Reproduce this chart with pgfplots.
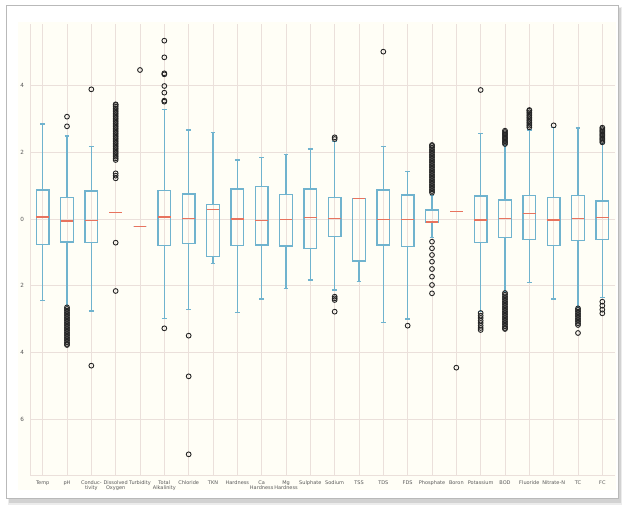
\documentclass[border=0pt]{standalone}
\usepackage{fontspec}
\setmainfont{DejaVu Sans}
\usepackage{pgfplots}
\pgfplotsset{compat=1.18}
\usepgfplotslibrary{statistics}
\definecolor{cream}{HTML}{FFFEF6}
\definecolor{gridc}{HTML}{EBE0DB}
\definecolor{boxc}{HTML}{70B3CE}
\definecolor{medc}{HTML}{E8735E}
\pgfplotsset{
  bx/.style={boxc, line width=1.1pt, mark=o, mark size=2.4pt,
    mark options={draw=black!85, line width=0.9pt, fill=none},
    boxplot/box extend=0.52, boxplot/whisker extend=0.2,
    boxplot/every median/.style={draw=medc, line width=1.3pt}},
}
\begin{document}
\begin{tikzpicture}[x=1pt,y=1pt]
\path[use as bounding box] (0,0) rectangle (622,506);
\fill[gray!15] (8,1) rectangle (622,499);
\fill[gray!35] (9,3) rectangle (621,498);
\filldraw[fill=white, draw=gray!55, line width=0.8pt] (6,8) rectangle (618,501);
\fill[cream] (18,16) rectangle (616,484);
\begin{axis}[at={(30.5pt,31pt)}, anchor=south west, scale only axis,
  width=584pt, height=451pt,
  xmin=0.5, xmax=24.5, ymin=-7.68, ymax=5.85,
  boxplot/draw direction=y,
  axis x line*=bottom, axis y line*=left,
  axis line style={draw=gridc, line width=0.6pt, -},
  major tick length=0pt,
  grid=major, grid style={draw=gridc, line width=0.6pt},
  xtick={1,...,24},
  xticklabels={Temp,pH,{Conduc-\\tivity},{Dissolved\\Oxygen},Turbidity,{Total\\Alkalinity},Chloride,TKN,Hardness,{Ca\\Hardness},{Mg\\Hardness},Sulphate,Sodium,TSS,TDS,FDS,Phosphate,Boron,Potassium,BOD,Fluoride,Nitrate-N,TC,FC},
  ytick={-6,-4,-2,0,2,4},
  yticklabels={6,4,2,0,2,4},
  /pgf/number format/assume math mode=true,
  tick label style={text=black!65},
  yticklabel style={font=\fontsize{5.7}{6}\selectfont, xshift=-3pt},
  xticklabel style={font=\fontsize{5}{5.6}\selectfont, align=center, yshift=-2pt},
]
% 1 Temp
\addplot[bx, boxplot prepared={draw position=1, lower whisker=-2.45, lower quartile=-0.76, median=0.06, upper quartile=0.87, upper whisker=2.85}] coordinates {};
% 2 pH
\addplot[bx, boxplot prepared={draw position=2, lower whisker=-2.6, lower quartile=-0.69, median=-0.06, upper quartile=0.65, upper whisker=2.49}] coordinates {(0,3.07) (0,2.78)
 (0,-2.65) (0,-2.70) (0,-2.75) (0,-2.80) (0,-2.85) (0,-2.90) (0,-2.95) (0,-3.00) (0,-3.05) (0,-3.10) (0,-3.15) (0,-3.20) (0,-3.25) (0,-3.30) (0,-3.35) (0,-3.40) (0,-3.45) (0,-3.50) (0,-3.55) (0,-3.60) (0,-3.65) (0,-3.70) (0,-3.75) (0,-3.78)};
% 3 Conductivity
\addplot[bx, boxplot prepared={draw position=3, lower whisker=-2.76, lower quartile=-0.70, median=-0.04, upper quartile=0.84, upper whisker=2.17}] coordinates {(0,3.89) (0,-4.40)};
% 4
\addplot[bx, boxplot prepared={draw position=4, lower whisker=0.2, lower quartile=0.2, median=0.2, upper quartile=0.2, upper whisker=0.2}] coordinates {
 (0,1.77) (0,1.82) (0,1.87) (0,1.92) (0,1.97) (0,2.02) (0,2.07) (0,2.12) (0,2.17) (0,2.22) (0,2.27) (0,2.32) (0,2.37) (0,2.42) (0,2.47) (0,2.52) (0,2.57) (0,2.62) (0,2.67) (0,2.72) (0,2.77) (0,2.82) (0,2.87) (0,2.92) (0,2.97) (0,3.02) (0,3.07) (0,3.12) (0,3.17) (0,3.22) (0,3.27) (0,3.32) (0,3.37) (0,3.42) (0,3.44)
 (0,1.37) (0,1.30) (0,1.22) (0,-0.71) (0,-2.16)};
% 5
\addplot[bx, boxplot prepared={draw position=5, lower whisker=-0.23, lower quartile=-0.23, median=-0.23, upper quartile=-0.23, upper whisker=-0.23}] coordinates {(0,4.47)};
% 6
\addplot[bx, boxplot prepared={draw position=6, lower whisker=-2.98, lower quartile=-0.80, median=0.06, upper quartile=0.85, upper whisker=3.29}] coordinates {(0,5.35) (0,4.85) (0,4.37) (0,4.34) (0,3.99) (0,3.79) (0,3.55) (0,3.52) (0,-3.28)};
% 7 Chloride
\addplot[bx, boxplot prepared={draw position=7, lower whisker=-2.71, lower quartile=-0.73, median=0.02, upper quartile=0.75, upper whisker=2.67}] coordinates {(0,-3.50) (0,-4.72) (0,-7.06)};
% 8 TKN
\addplot[bx, boxplot prepared={draw position=8, lower whisker=-1.33, lower quartile=-1.13, median=0.29, upper quartile=0.43, upper whisker=2.59}] coordinates {};
% 9 Hardness
\addplot[bx, boxplot prepared={draw position=9, lower whisker=-2.80, lower quartile=-0.80, median=0.0, upper quartile=0.90, upper whisker=1.77}] coordinates {};
% 10
\addplot[bx, boxplot prepared={draw position=10, lower whisker=-2.40, lower quartile=-0.78, median=-0.04, upper quartile=0.98, upper whisker=1.85}] coordinates {};
% 11
\addplot[bx, boxplot prepared={draw position=11, lower whisker=-2.08, lower quartile=-0.81, median=-0.02, upper quartile=0.74, upper whisker=1.94}] coordinates {};
% 12
\addplot[bx, boxplot prepared={draw position=12, lower whisker=-1.83, lower quartile=-0.88, median=0.04, upper quartile=0.90, upper whisker=2.10}] coordinates {};
% 13 Sodium
\addplot[bx, boxplot prepared={draw position=13, lower whisker=-2.13, lower quartile=-0.53, median=0.02, upper quartile=0.65, upper whisker=2.32}] coordinates {(0,2.40) (0,2.45) (0,-2.33) (0,-2.38) (0,-2.43) (0,-2.78)};
% 14 TSS
\addplot[bx, boxplot prepared={draw position=14, lower whisker=-1.88, lower quartile=-1.26, median=0.61, upper quartile=0.61, upper whisker=0.61}] coordinates {};
% 15 TDS
\addplot[bx, boxplot prepared={draw position=15, lower whisker=-3.11, lower quartile=-0.78, median=-0.01, upper quartile=0.87, upper whisker=2.17}] coordinates {(0,5.02)};
% 16 FDS
\addplot[bx, boxplot prepared={draw position=16, lower whisker=-3.0, lower quartile=-0.83, median=-0.01, upper quartile=0.72, upper whisker=1.43}] coordinates {(0,-3.2)};
% 17 Phosphate
\addplot[bx, boxplot prepared={draw position=17, lower whisker=-0.55, lower quartile=-0.11, median=-0.09, upper quartile=0.27, upper whisker=0.70}] coordinates {
 (0,0.79) (0,0.84) (0,0.89) (0,0.94) (0,0.99) (0,1.04) (0,1.09) (0,1.14) (0,1.19) (0,1.24) (0,1.29) (0,1.34) (0,1.39) (0,1.44) (0,1.49) (0,1.54) (0,1.59) (0,1.64) (0,1.69) (0,1.74) (0,1.79) (0,1.84) (0,1.89) (0,1.94) (0,1.99) (0,2.04) (0,2.09) (0,2.14) (0,2.19) (0,2.22)
 (0,-0.68) (0,-0.88) (0,-1.08) (0,-1.28) (0,-1.50) (0,-1.73) (0,-1.98) (0,-2.23)};
% 18 Boron
\addplot[bx, boxplot prepared={draw position=18, lower whisker=0.22, lower quartile=0.22, median=0.22, upper quartile=0.22, upper whisker=0.22}] coordinates {(0,-4.46)};
% 19 Potassium
\addplot[bx, boxplot prepared={draw position=19, lower whisker=-2.78, lower quartile=-0.70, median=-0.03, upper quartile=0.69, upper whisker=2.57}] coordinates {(0,3.87) (0,-2.82) (0,-2.90) (0,-2.97) (0,-3.05) (0,-3.12) (0,-3.20) (0,-3.27) (0,-3.33)};
% 20 BOD
\addplot[bx, boxplot prepared={draw position=20, lower whisker=-2.18, lower quartile=-0.55, median=0.02, upper quartile=0.57, upper whisker=2.20}] coordinates {
 (0,2.25) (0,2.29) (0,2.33) (0,2.37) (0,2.41) (0,2.45) (0,2.49) (0,2.53) (0,2.57) (0,2.61) (0,2.65)
 (0,-2.22) (0,-2.27) (0,-2.32) (0,-2.37) (0,-2.42) (0,-2.47) (0,-2.52) (0,-2.57) (0,-2.62) (0,-2.67) (0,-2.72) (0,-2.77) (0,-2.82) (0,-2.87) (0,-2.92) (0,-2.97) (0,-3.02) (0,-3.07) (0,-3.12) (0,-3.17) (0,-3.22) (0,-3.27) (0,-3.30)};
% 21 Fluoride
\addplot[bx, boxplot prepared={draw position=21, lower whisker=-1.90, lower quartile=-0.61, median=0.16, upper quartile=0.70, upper whisker=2.67}] coordinates {
 (0,2.75) (0,2.80) (0,2.85) (0,2.90) (0,2.95) (0,3.00) (0,3.05) (0,3.10) (0,3.15) (0,3.20) (0,3.25) (0,3.27)};
% 22 Nitrate-N
\addplot[bx, boxplot prepared={draw position=22, lower whisker=-2.40, lower quartile=-0.80, median=-0.03, upper quartile=0.65, upper whisker=2.74}] coordinates {(0,2.81)};
% 23 TC
\addplot[bx, boxplot prepared={draw position=23, lower whisker=-2.65, lower quartile=-0.65, median=0.02, upper quartile=0.70, upper whisker=2.73}] coordinates {
 (0,-2.68) (0,-2.73) (0,-2.78) (0,-2.83) (0,-2.88) (0,-2.93) (0,-2.98) (0,-3.03) (0,-3.08) (0,-3.13) (0,-3.18) (0,-3.42)};
% 24 FC
\addplot[bx, boxplot prepared={draw position=24, lower whisker=-2.35, lower quartile=-0.61, median=0.04, upper quartile=0.54, upper whisker=2.27}] coordinates {
 (0,2.30) (0,2.34) (0,2.38) (0,2.42) (0,2.46) (0,2.50) (0,2.54) (0,2.58) (0,2.62) (0,2.66) (0,2.70) (0,2.74)
 (0,-2.48) (0,-2.60) (0,-2.72) (0,-2.83)};
\end{axis}
\end{tikzpicture}
\end{document}
